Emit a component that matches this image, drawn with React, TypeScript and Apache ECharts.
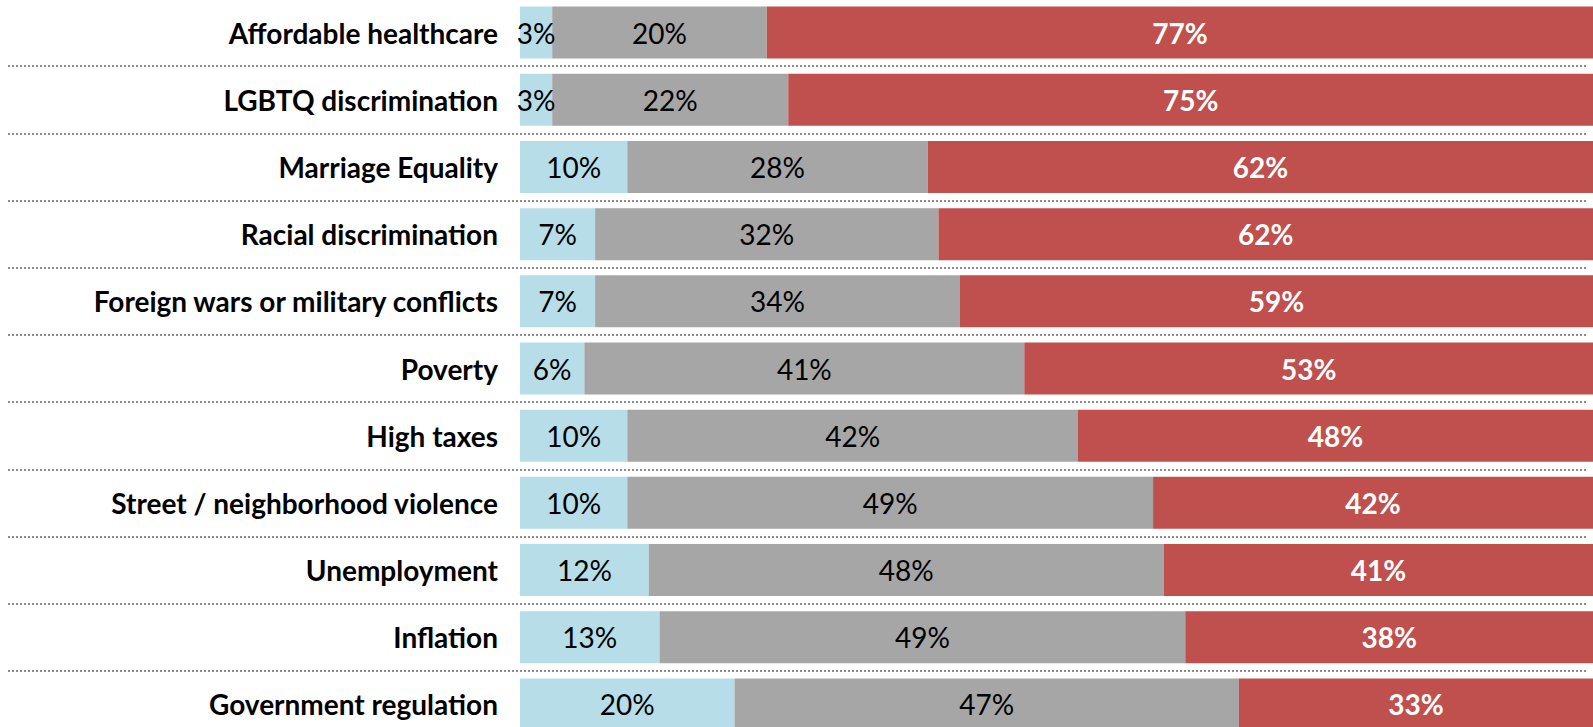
import React, { useEffect, useRef } from "react";
import * as echarts from "echarts";

const categories = [
  "Affordable healthcare",
  "LGBTQ discrimination",
  "Marriage Equality",
  "Racial discrimination",
  "Foreign wars or military conflicts",
  "Poverty",
  "High taxes",
  "Street / neighborhood violence",
  "Unemployment",
  "Inflation",
  "Government regulation",
];
const blueValues = [3, 3, 10, 7, 7, 6, 10, 10, 12, 13, 20];
const grayValues = [20, 22, 28, 32, 34, 41, 42, 49, 48, 49, 47];
const redValues = [77, 75, 62, 62, 59, 53, 48, 42, 41, 38, 33];

const FONT = "Lato";

export default function App() {
  const ref = useRef<HTMLDivElement>(null);
  useEffect(() => {
    document.body.style.margin = "0";
    document.body.style.overflow = "hidden";
    if (!ref.current) return;
    const chart = echarts.init(ref.current, undefined, { renderer: "svg" });
    const pct = (p: any) => `${p.value}%`;
    const gridPos = { top: -1, height: 739, outerBoundsMode: "none", containLabel: false };
    const labelBase = {
      show: true,
      position: "inside",
      formatter: pct,
      fontFamily: FONT,
      fontSize: 28,
    };
    chart.setOption({
      animation: false,
      grid: [
        { left: 520, right: 0, ...gridPos },
        { left: 8, right: 6, ...gridPos },
      ],
      xAxis: [
        { type: "value", min: 0, max: 100, show: false, gridIndex: 0 },
        { type: "value", min: 0, max: 100, show: false, gridIndex: 1 },
      ],
      yAxis: [
        {
          type: "category",
          data: categories,
          inverse: true,
          gridIndex: 0,
          axisLine: { show: false },
          axisTick: { show: false },
          splitLine: { show: false },
          axisLabel: {
            margin: 22,
            fontFamily: FONT,
            fontWeight: "bold",
            fontSize: 28,
            color: "#000",
          },
        },
        {
          type: "category",
          data: categories,
          inverse: true,
          gridIndex: 1,
          axisLine: { show: false },
          axisTick: { show: false },
          axisLabel: { show: false },
          splitLine: {
            show: true,
            interval: 0,
            lineStyle: { color: "#8c8c8c", width: 2, type: [2, 2] },
          },
        },
      ],
      series: [
        {
          type: "bar",
          stack: "total",
          data: blueValues,
          barWidth: 52,
          itemStyle: { color: "#B7DDE8" },
          label: { ...labelBase, color: "#000" },
        },
        {
          type: "bar",
          stack: "total",
          data: grayValues,
          barWidth: 52,
          itemStyle: { color: "#A6A6A6" },
          label: { ...labelBase, color: "#000" },
        },
        {
          type: "bar",
          stack: "total",
          data: redValues,
          barWidth: 52,
          itemStyle: { color: "#C0504D" },
          label: { ...labelBase, fontWeight: "bold", color: "#fff" },
        },
      ],
    });
    return () => chart.dispose();
  }, []);
  return <div ref={ref} style={{ width: 1593, height: 727 }} />;
}
